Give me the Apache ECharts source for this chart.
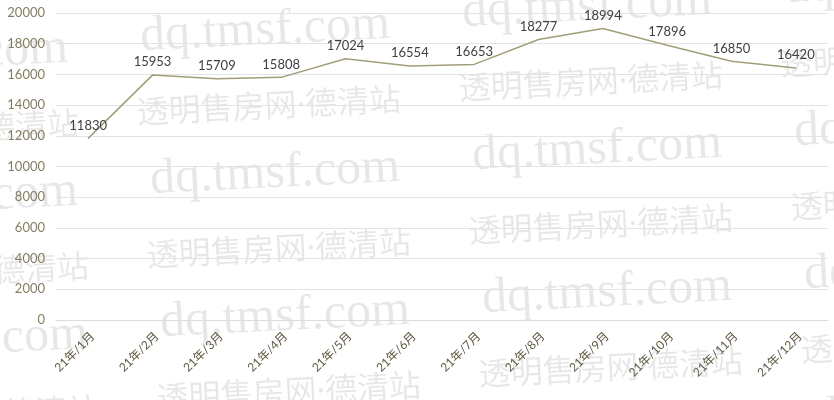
<!DOCTYPE html>
<html>
<head>
<meta charset="utf-8">
<script src="https://cdn.jsdelivr.net/npm/echarts@6/dist/echarts.min.js"></script>
<style>
html,body{margin:0;padding:0;background:#fff;}
#chart{width:834px;height:400px;}
</style>
</head>
<body>
<div id="chart"></div>
<script>
var categories = ['21年/1月','21年/2月','21年/3月','21年/4月','21年/5月','21年/6月','21年/7月','21年/8月','21年/9月','21年/10月','21年/11月','21年/12月'];
var values = [11830, 15953, 15709, 15808, 17024, 16554, 16653, 18277, 18994, 17896, 16850, 16420];
var yTicks = {min: 0, max: 20000, interval: 2000};
var watermarkTexts = ['dq.tmsf.com', '透明售房网·德清站'];

var graphics = [];
for (var i = -1; i <= 3; i++) {
  for (var j = -1; j <= 3; j++) {
    var cx = 265 + i * 322 + j * 10;
    var cy = 31 - i * 24 + j * 143;
    graphics.push({
      type: 'text', x: cx, y: cy, rotation: 0.05, z: -10, silent: true,
      style: {text: watermarkTexts[0], x: 0, y: 0, align: 'center', verticalAlign: 'middle',
        font: '50px "Liberation Serif"', fill: 'rgba(0,0,0,0.095)'}
    });
    graphics.push({
      type: 'text', x: cx + 4, y: cy + 77, rotation: 0.05, z: -10, silent: true,
      style: {text: watermarkTexts[1], x: 0, y: 0, align: 'center', verticalAlign: 'middle',
        font: '32px "Noto Sans", "Noto Sans CJK SC"', fill: 'rgba(0,0,0,0.095)'}
    });
  }
}

var chart = echarts.init(document.getElementById('chart'));
chart.setOption({
  animation: false,
  backgroundColor: '#fff',
  textStyle: {fontFamily: 'Lato, "Noto Sans CJK SC", sans-serif'},
  grid: {left: 56, right: 6, top: 13, bottom: 80, containLabel: false},
  xAxis: {
    type: 'category',
    data: categories,
    boundaryGap: true,
    axisLine: {show: true, lineStyle: {color: '#dcdcdc', width: 1}},
    axisTick: {show: false},
    axisLabel: {rotate: 45, margin: 10, color: '#5e5843', fontSize: 12, interval: 0,
      verticalAlign: 'top',
      fontFamily: 'Lato, "Noto Sans CJK SC", sans-serif'}
  },
  yAxis: {
    type: 'value',
    min: yTicks.min, max: yTicks.max, interval: yTicks.interval,
    axisLine: {show: false},
    axisTick: {show: false},
    axisLabel: {margin: 11, color: '#857d62', fontSize: 13, formatter: function (v) { return String(v); }},
    splitLine: {lineStyle: {color: '#e3e3e3', width: 1}}
  },
  series: [{
    type: 'line',
    data: values,
    symbol: 'circle',
    symbolSize: 1,
    itemStyle: {color: '#a29d7a'},
    lineStyle: {color: '#a29d7a', width: 1.5},
    label: {show: true, position: 'top', distance: 6, color: '#3f3f3f', fontSize: 13}
  }],
  graphic: graphics
});
</script>
</body>
</html>
